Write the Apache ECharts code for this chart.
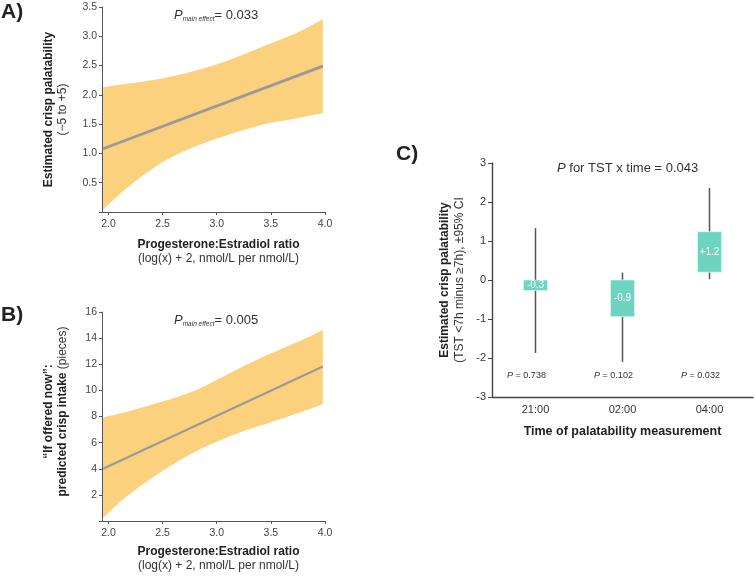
<!DOCTYPE html>
<html>
<head>
<meta charset="utf-8">
<script src="https://cdn.jsdelivr.net/npm/echarts@6/dist/echarts.min.js"></script>
<style>html,body{margin:0;padding:0;background:#fff}#c{width:755px;height:576px}</style>
</head>
<body>
<div id="c"></div>
<script>
// ---- Panel A data ----
const xsA = [1.95, 2.17, 2.49, 2.80, 3.11, 3.42, 3.74, 3.98];
const upperA = [2.13, 2.19, 2.28, 2.41, 2.59, 2.82, 3.06, 3.29];
const lowerA = [0.04, 0.41, 0.84, 1.12, 1.32, 1.49, 1.60, 1.69];
const fitXA = [1.95, 3.98];
const fitYA = [1.08, 2.49];
// ---- Panel B data ----
const xsB = [1.95, 2.17, 2.49, 2.80, 3.11, 3.42, 3.74, 3.98];
const upperB = [7.93, 8.36, 9.12, 10.0, 11.28, 12.54, 13.68, 14.63];
const lowerB = [0.24, 1.89, 3.79, 5.31, 6.45, 7.34, 8.23, 8.94];
const fitXB = [1.95, 3.98];
const fitYB = [4.0, 11.83];
// ---- Panel C data ----
const times = ['21:00', '02:00', '04:00'];
const estLabels = ['-0.3', '-0.9', '+1.2'];
const boxLow = [-0.27, -0.94, 0.20];
const boxHigh = [0, 0, 1.24];
const ciLow = [-1.87, -2.10, 0.02];
const ciHigh = [1.33, 0.19, 2.36];
const pValues = ['0.738', '0.102', '0.032'];
// tick labels
const xTicksAB = [2, 2.5, 3, 3.5, 4];

const FONT = 'Liberation Sans, Arial, sans-serif';
const BAND = '#fcd17e';
const FIT = '#999999';
const AX = '#555';
const pLabelY = -2.45;

const chart = echarts.init(document.getElementById('c'), null, {renderer: 'canvas'});

function pair(xs, ys) { return xs.map((x, i) => [x, ys[i]]); }

// Catmull-Rom spline through pixel points -> SVG path commands (without initial M)
function spline(pts) {
  let d = '';
  for (let i = 0; i < pts.length - 1; i++) {
    const p0 = pts[Math.max(i - 1, 0)], p1 = pts[i], p2 = pts[i + 1], p3 = pts[Math.min(i + 2, pts.length - 1)];
    const c1x = p1[0] + (p2[0] - p0[0]) / 6, c1y = p1[1] + (p2[1] - p0[1]) / 6;
    const c2x = p2[0] - (p3[0] - p1[0]) / 6, c2y = p2[1] - (p3[1] - p1[1]) / 6;
    d += ' C' + c1x + ',' + c1y + ' ' + c2x + ',' + c2y + ' ' + p2[0] + ',' + p2[1];
  }
  return d;
}

function bandSeries(axisIdx, xs, lo, hi) {
  return {
    type: 'custom', xAxisIndex: axisIdx, yAxisIndex: axisIdx, silent: true, z: 2,
    data: xs.map((x, i) => [x, lo[i], hi[i]]),
    encode: {x: 0, y: [1, 2]},
    renderItem: function (params, api) {
      if (params.dataIndex !== 0) return null;
      const up = xs.map((x, i) => api.coord([x, hi[i]]));
      const dn = xs.map((x, i) => api.coord([x, lo[i]])).reverse();
      const d = 'M' + up[0][0] + ',' + up[0][1] + spline(up) +
                ' L' + dn[0][0] + ',' + dn[0][1] + spline(dn) + ' Z';
      return {type: 'path', shape: {pathData: d}, style: {fill: BAND, stroke: null}};
    }
  };
}

const pRich = {
  p: {fontStyle: 'italic', fontWeight: 'normal', fontSize: 13, fontFamily: FONT, color: '#333', lineHeight: 16},
  s: {fontStyle: 'italic', fontWeight: 'normal', fontSize: 6.5, fontFamily: FONT, color: '#333', verticalAlign: 'bottom', lineHeight: 10},
  e: {fontWeight: 'normal', fontSize: 13, fontFamily: FONT, color: '#333', lineHeight: 16}
};

function abX(idx, nameTop) {
  return {
    type: 'value', gridIndex: idx, min: 1.94, max: 4.0,
    axisLine: {show: true, onZero: false, lineStyle: {color: AX, width: 1}},
    axisTick: {show: true, length: 3, lineStyle: {color: AX}, customValues: xTicksAB},
    axisLabel: {customValues: xTicksAB, formatter: v => v.toFixed(1), fontSize: 10.5, color: '#444', fontFamily: FONT, margin: 7},
    splitLine: {show: false},
    name: '{b|Progesterone:Estradiol ratio}\n{n|(log(x) + 2, nmol/L per nmol/L)}',
    nameLocation: 'middle', nameGap: nameTop,
    nameTextStyle: {
      padding: [0, 0, 0, 10],
      rich: {
        b: {fontWeight: 'bold', fontSize: 12, fontFamily: FONT, color: '#222', lineHeight: 14},
        n: {fontSize: 12, fontFamily: FONT, color: '#333', lineHeight: 14}
      }
    }
  };
}

const option = {
  animation: false,
  backgroundColor: '#fff',
  grid: [
    {left: 102, right: 430, top: 7, bottom: 364},
    {left: 102, right: 430, top: 312, bottom: 55},
    {left: 492, right: 2, top: 163, bottom: 179}
  ],
  title: [
    {text: '{p|P}{s|main effect}{e|= 0.033}', left: 169, top: 2, textStyle: {fontWeight: 'normal', rich: pRich}},
    {text: '{p|P}{s|main effect}{e|= 0.005}', left: 169, top: 307, textStyle: {fontWeight: 'normal', rich: pRich}},
    {text: '{p|P}{e| for TST x time = 0.043}', left: 552, top: 157,
     textStyle: {fontWeight: 'normal', rich: {
       p: {fontStyle: 'italic', fontWeight: 'normal', fontSize: 13, fontFamily: FONT, color: '#333'},
       e: {fontWeight: 'normal', fontSize: 13, fontFamily: FONT, color: '#333'}}}}
  ],
  graphic: [
    {type: 'text', left: 1, top: 2, style: {text: 'A)', font: 'bold 21px ' + FONT, fill: '#222'}},
    {type: 'text', left: 1, top: 305, style: {text: 'B)', font: 'bold 21px ' + FONT, fill: '#222'}},
    {type: 'text', left: 396, top: 144, style: {text: 'C)', font: 'bold 21px ' + FONT, fill: '#222'}}
  ],
  xAxis: [
    abX(0, 26),
    abX(1, 24),
    {
      type: 'category', gridIndex: 2, data: times, boundaryGap: true,
      axisLine: {onZero: false, lineStyle: {color: '#444', width: 1.4}},
      axisTick: {alignWithLabel: true, length: 4, lineStyle: {color: '#444'}},
      axisLabel: {fontSize: 11, color: '#333', fontFamily: FONT, margin: 7},
      name: 'Time of palatability measurement', nameLocation: 'middle', nameGap: 28,
      nameTextStyle: {fontWeight: 'bold', fontSize: 12.5, fontFamily: FONT, color: '#222'}
    }
  ],
  yAxis: [
    {
      type: 'value', gridIndex: 0, min: 0, max: 3.5, interval: 0.5,
      axisLine: {show: true, lineStyle: {color: AX, width: 1}},
      axisTick: {show: true, length: 3, lineStyle: {color: AX}},
      axisLabel: {formatter: v => v === 0 ? '' : v.toFixed(1), fontSize: 10.5, color: '#444', fontFamily: FONT, margin: 5},
      splitLine: {show: false},
      name: '{b|Estimated crisp palatability}\n{n|(−5 to +5)}',
      nameLocation: 'middle', nameRotate: 90, nameGap: 32,
      nameTextStyle: {rich: {
        b: {fontWeight: 'bold', fontSize: 12, fontFamily: FONT, color: '#222', lineHeight: 14},
        n: {fontSize: 12, fontFamily: FONT, color: '#333', lineHeight: 14}
      }}
    },
    {
      type: 'value', gridIndex: 1, min: 0, max: 16, interval: 2,
      axisLine: {show: true, lineStyle: {color: AX, width: 1}},
      axisTick: {show: true, length: 3, lineStyle: {color: AX}},
      axisLabel: {formatter: v => v === 0 ? '' : String(v), fontSize: 10.5, color: '#444', fontFamily: FONT, margin: 5},
      splitLine: {show: false},
      name: '{b|“If offered now”:}\n{b|predicted crisp intake }{n|(pieces)}',
      nameLocation: 'middle', nameRotate: 90, nameGap: 32,
      nameTextStyle: {padding: [0, 0, 0, 10], rich: {
        b: {fontWeight: 'bold', fontSize: 12, fontFamily: FONT, color: '#222', lineHeight: 14},
        n: {fontSize: 12, fontFamily: FONT, color: '#333', lineHeight: 14}
      }}
    },
    {
      type: 'value', gridIndex: 2, min: -3, max: 3, interval: 1,
      axisLine: {show: true, lineStyle: {color: '#444', width: 1.4}},
      axisTick: {show: true, length: 4, lineStyle: {color: '#444'}},
      axisLabel: {fontSize: 11, color: '#333', fontFamily: FONT, margin: 6},
      splitLine: {show: false},
      name: '{b|Estimated crisp palatability}\n{n|(TST <7h minus ≥7h), ±95% CI}',
      nameLocation: 'middle', nameRotate: 90, nameGap: 25,
      nameTextStyle: {rich: {
        b: {fontWeight: 'bold', fontSize: 12, fontFamily: FONT, color: '#222', lineHeight: 15},
        n: {fontSize: 12, fontFamily: FONT, color: '#333', lineHeight: 15}
      }}
    }
  ],
  series: [
    bandSeries(0, xsA, lowerA, upperA),
    {type: 'line', xAxisIndex: 0, yAxisIndex: 0, data: pair(fitXA, fitYA), symbol: 'none',
     lineStyle: {color: FIT, width: 2.8}, z: 5},
    bandSeries(1, xsB, lowerB, upperB),
    {type: 'line', xAxisIndex: 1, yAxisIndex: 1, data: pair(fitXB, fitYB), symbol: 'none',
     lineStyle: {color: FIT, width: 2}, z: 5},
    {
      type: 'custom', xAxisIndex: 2, yAxisIndex: 2,
      data: times.map((t, i) => [i, boxLow[i], boxHigh[i], ciLow[i], ciHigh[i]]),
      encode: {x: 0, y: [1, 2, 3, 4]},
      renderItem: function (params, api) {
        const ci = api.value(0);
        const idx = params.dataIndex;
        const hi = api.coord([ci, api.value(4)]);
        const lo = api.coord([ci, api.value(3)]);
        const bt = api.coord([ci, api.value(2)]);
        const bb = api.coord([ci, api.value(1)]);
        const pp = api.coord([ci, pLabelY]);
        const x = hi[0];
        const bw = 24;
        return {
          type: 'group',
          children: [
            {type: 'line', shape: {x1: x, y1: hi[1], x2: x, y2: lo[1]}, style: {stroke: '#555', lineWidth: 1.5}},
            {type: 'rect', shape: {x: x - bw / 2, y: bt[1], width: bw, height: bb[1] - bt[1]},
             style: {fill: '#6dd5bf', stroke: '#e8faf6', lineWidth: 0.6}},
            {type: 'text', x: x, y: (bt[1] + bb[1]) / 2,
             style: {text: estLabels[idx], fill: '#fff', font: '10px ' + FONT, align: 'center', verticalAlign: 'middle'}},
            {type: 'text', x: x - 9, y: pp[1],
             style: {text: '{i|P} = ' + pValues[idx], align: 'center', verticalAlign: 'middle', fill: '#333',
                     font: '9px ' + FONT,
                     rich: {i: {fontStyle: 'italic', fontSize: 9, fontFamily: FONT, fill: '#333'}}}}
          ]
        };
      }
    }
  ]
};
chart.setOption(option);
</script>
</body>
</html>
